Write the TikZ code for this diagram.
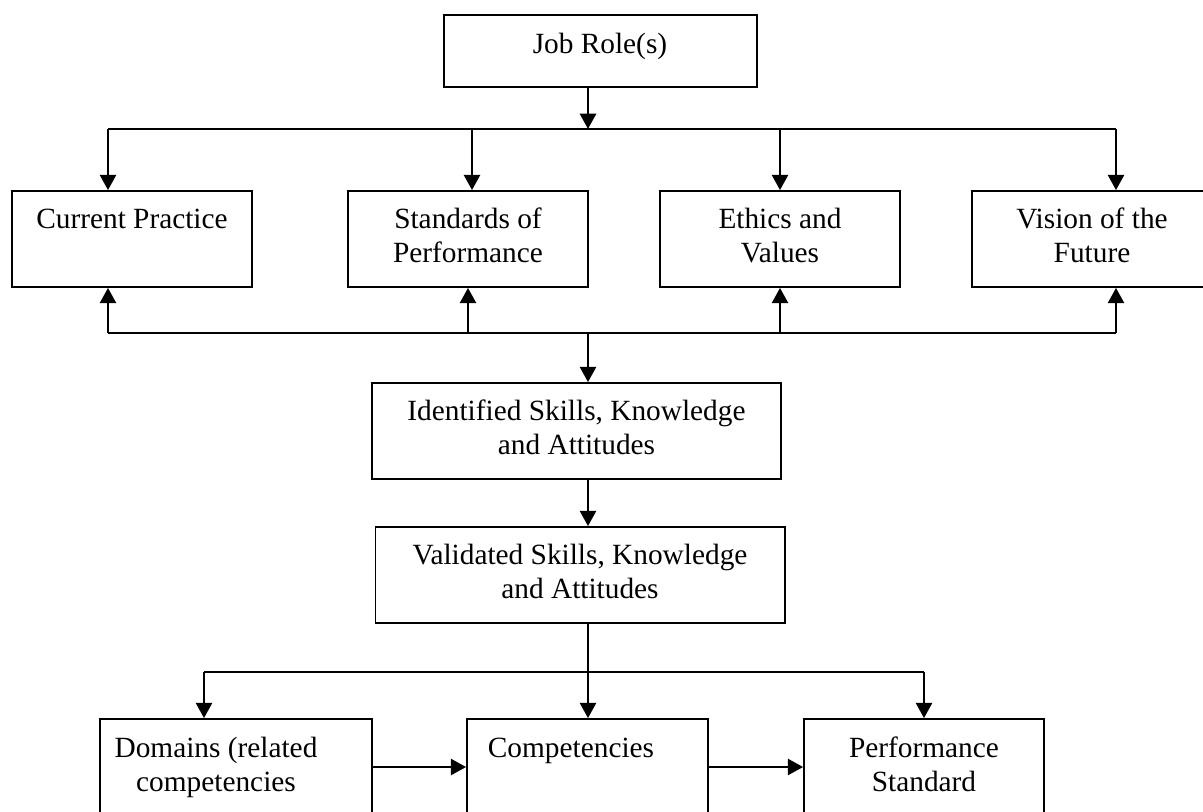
\documentclass[tikz,border=0pt]{standalone}
\usepackage{fontspec}
\setmainfont{Liberation Serif}
\usetikzlibrary{arrows.meta}
\newcommand{\mylines}[1]{\parbox[t]{300pt}{\centering #1}}
\begin{document}
\begin{tikzpicture}[x=0.75pt,y=-0.75pt,
  box/.style={draw, line width=1.3pt, inner sep=0pt, rectangle},
  wh/.style 2 args={minimum width=#1*0.75pt, minimum height=#2*0.75pt},
  lbl/.style={anchor=base, inner sep=0pt, font=\fontsize{22pt}{25.5pt}\selectfont},
  arr/.style={line width=2.1pt, -{Triangle[length=11.5pt,width=12pt]}},
  bus/.style={line width=1.5pt},
  ]
\useasboundingbox (0,0) rectangle (1203,811);

% boxes
\node[box, wh={313}{72}] (job) at (600.5,51) {};
\node[box, wh={240}{96}] (cur) at (132,239) {};
\node[box, wh={240}{96}] (std) at (468,239) {};
\node[box, wh={240}{96}] (eth) at (780,239) {};
\node[box, wh={240}{96}] (vis) at (1092,239) {};
\node[box, wh={409}{96}] (ide) at (576.5,431) {};
\node[box, wh={409.5}{96}] (val) at (580.25,575) {};
\node[box, wh={272}{96}] (dom) at (236,767) {};
\node[box, wh={241}{96}] (com) at (587.5,767) {};
\node[box, wh={240}{96}] (per) at (924,767) {};

% texts
\node[lbl] (jobT) at (600,53) {\mylines{Job Role(s)}};
\node[lbl] (curT) at (132,228) {\mylines{Current Practice}};
\node[lbl] (stdT) at (468,228) {\mylines{Standards of\\Performance}};
\node[lbl] (ethT) at (780,228) {\mylines{Ethics and\\Values}};
\node[lbl] (visT) at (1092,228) {\mylines{Vision of the\\Future}};
\node[lbl] (ideT) at (576.5,420) {\mylines{Identified Skills, Knowledge\\and Attitudes}};
\node[lbl] (valT) at (580,564) {\mylines{Validated Skills, Knowledge\\and Attitudes}};
\node[lbl] (domT) at (216,757) {\mylines{Domains (related\\competencies}};
\node[lbl] (comT) at (571,757) {\mylines{Competencies}};
\node[lbl] (perT) at (924,757) {\mylines{Performance\\Standard}};

% branch coordinates
\coordinate (t0) at (588,129);
\coordinate (t1) at (108,129);
\coordinate (t2) at (472,129);
\coordinate (t3) at (780,129);
\coordinate (t4) at (1116,129);
\coordinate (b0) at (588,333);
\coordinate (b1) at (108,333);
\coordinate (b2) at (468,333);
\coordinate (b3) at (780,333);
\coordinate (b4) at (1116,333);
\coordinate (c1) at (204,672);
\coordinate (c2) at (924,672);

% top distribution
\draw[bus] (t1) -- (t4);
\draw[arr] (job.south -| t0) -- (t0);
\draw[arr] (t1) -- (t1 |- cur.north);
\draw[arr] (t2) -- (t2 |- std.north);
\draw[arr] (t3) -- (t3 |- eth.north);
\draw[arr] (t4) -- (t4 |- vis.north);

% bottom collection
\draw[bus] (b1) -- (b4);
\draw[arr] (b1) -- (b1 |- cur.south);
\draw[arr] (b2) -- (b2 |- std.south);
\draw[arr] (b3) -- (b3 |- eth.south);
\draw[arr] (b4) -- (b4 |- vis.south);
\draw[arr] (b0) -- (b0 |- ide.north);

% middle chain
\draw[arr] (ide.south -| b0) -- (val.north -| b0);
\draw[bus] (c1) -- (c2);
\draw[arr] (val.south -| b0) -- (com.north -| b0);
\draw[arr] (c1) -- (c1 |- dom.north);
\draw[arr] (c2) -- (c2 |- per.north);

% bottom row
\draw[arr] (dom.east) -- (com.west);
\draw[arr] (com.east) -- (per.west);
\end{tikzpicture}
\end{document}
